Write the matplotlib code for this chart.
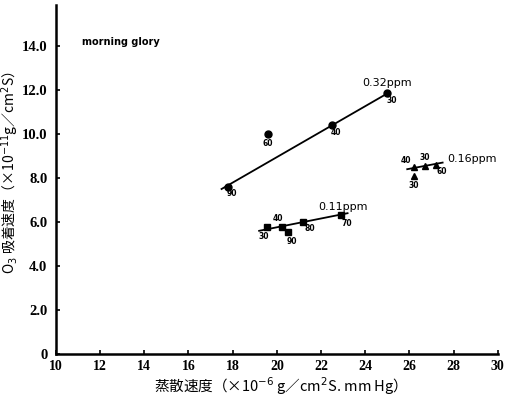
import matplotlib
matplotlib.use("Agg")
import matplotlib.pyplot as plt

plt.rcParams['font.family'] = ['Noto Sans CJK JP', 'DejaVu Sans']

# 0.32 ppm (circles)
x32 = [17.8, 19.6, 22.5, 25.0]
y32 = [7.6, 10.0, 10.4, 11.85]
lab32 = ["90", "60", "40", "30"]
fit32_x = [17.5, 25.1]
fit32_y = [7.5, 11.9]

# 0.16 ppm (triangles)
x16 = [26.2, 26.2, 26.7, 27.2]
y16 = [8.5, 8.1, 8.55, 8.6]
lab16 = ["40", "30", "30", "60"]
fit16_x = [25.9, 27.5]
fit16_y = [8.4, 8.7]

# 0.11 ppm (squares)
x11 = [19.55, 20.25, 20.5, 21.2, 22.9]
y11 = [5.77, 5.77, 5.55, 6.0, 6.3]
lab11 = ["30", "40", "90", "80", "70"]
fit11_x = [19.2, 23.2]
fit11_y = [5.6, 6.4]

xticks = [10, 12, 14, 16, 18, 20, 22, 24, 26, 28, 30]
yticks = [0, 2, 4, 6, 8, 10, 12, 14]
ytick_labels = ["0", "2.0", "4.0", "6.0", "8.0", "10.0", "12.0", "14.0"]

fig = plt.figure(figsize=(5.07, 4.01), dpi=100)
ax = fig.add_axes([0.110, 0.117, 0.872, 0.870])

ax.plot(fit32_x, fit32_y, color='black', lw=1.3)
ax.plot(fit16_x, fit16_y, color='black', lw=1.3)
ax.plot(fit11_x, fit11_y, color='black', lw=1.3)
ax.plot(x32, y32, 'o', color='black', ms=5)
ax.plot(x16, y16, '^', color='black', ms=5)
ax.plot(x11, y11, 's', color='black', ms=4.5)

# small number labels next to points (offsets in points)
off32 = [(3, -5), (0, -7), (3, -5), (3, -5)]
off16 = [(-6, 5), (0, -7), (0, 6), (4, -5)]
off11 = [(-2, -7), (-3, 6), (3, -7), (5, -5), (4, -6)]
for xs, ys, labs, offs in [(x32, y32, lab32, off32), (x16, y16, lab16, off16),
                           (x11, y11, lab11, off11)]:
    for x, y, t, o in zip(xs, ys, labs, offs):
        ax.annotate(t, (x, y), xytext=o, textcoords='offset points',
                    fontsize=5.5, fontweight='bold', ha='center', va='center',
                    family='DejaVu Sans')

ax.text(25.0, 12.3, "0.32ppm", fontsize=8, ha='center', va='center', family='DejaVu Sans')
ax.text(27.7, 8.85, "0.16ppm", fontsize=8, ha='left', va='center', family='DejaVu Sans')
ax.text(23.0, 6.7, "0.11ppm", fontsize=8, ha='center', va='center', family='DejaVu Sans')
ax.text(11.2, 14.2, "morning glory", fontsize=7, fontweight='bold', ha='left', va='center',
        family='DejaVu Sans')

ax.set_xlim(10, 30)
ax.set_ylim(0, 15.85)
ax.set_xticks(xticks)
ax.set_yticks(yticks)
ax.set_xticklabels([str(t) for t in xticks], fontsize=10, fontweight='bold',
                   family='Liberation Serif')
ax.set_yticklabels(ytick_labels, fontsize=10.5, fontweight='bold', family='Liberation Serif')
ax.tick_params(direction='in', length=3, width=1.2)
ax.tick_params(axis='x', pad=4)
ax.tick_params(axis='y', pad=6)

for s in ['top', 'right']:
    ax.spines[s].set_visible(False)
for s in ['left', 'bottom']:
    ax.spines[s].set_linewidth(1.8)

ax.set_xlabel("蒸散速度（×10$^{-6}$ g／cm$^{2}$S. mm Hg）", fontsize=10.5, labelpad=2)
ax.set_ylabel("O$_{3}$ 吸着速度（×10$^{-11}$g／cm$^{2}$S）", fontsize=10)
ax.yaxis.set_label_coords(-0.078, 0.52)

fig.savefig("out.png", dpi=100)
